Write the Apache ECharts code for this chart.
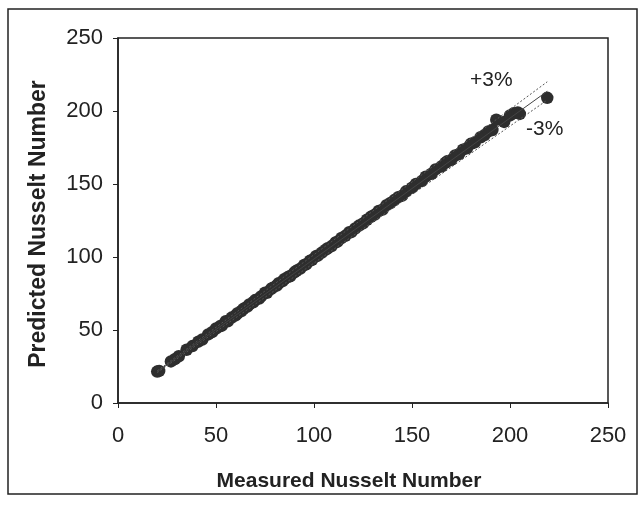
<!DOCTYPE html>
<html>
<head>
<meta charset="utf-8">
<script src="https://cdn.jsdelivr.net/npm/echarts@6/dist/echarts.min.js"></script>
<style>
  html, body { margin: 0; padding: 0; background: #fff; }
  #chart { width: 641px; height: 506px; }
</style>
</head>
<body>
<div id="chart"></div>
<script>
// measured vs predicted Nusselt number
const measured = [20, 21, 27, 29, 31, 35, 38, 41, 43, 46, 48, 50, 52, 53, 55, 56, 58, 60, 61, 63,
  64, 66, 67, 69, 70, 72, 73, 75, 76, 78, 79, 81, 82, 84, 85, 87, 88, 90, 91, 93,
  95, 96, 98, 99, 101, 102, 104, 106, 107, 109, 111, 112, 114, 116, 118, 119, 121, 123, 125, 127,
  129, 131, 133, 135, 137, 139, 141, 143, 145, 147, 150, 152, 155, 157, 160, 162, 165, 167, 168, 170,
  172, 174, 176, 178, 180, 182, 185, 187, 189, 191, 193, 197, 200, 202, 204, 205, 219];
const predicted = [21.5, 22, 28.5, 30, 32, 36.5, 39, 42, 43.5, 47, 48.5, 51, 52.5, 53, 56, 56, 58.5, 60, 61.5, 63,
  64.5, 66, 67.5, 69, 70.5, 71.5, 73, 75.5, 75.5, 78, 79, 80.5, 82, 83.5, 85, 86.5, 87, 89.5, 90.5, 92,
  94.5, 95, 97.5, 98, 100.5, 101, 103, 105, 106, 107.5, 110, 110.5, 113, 114.5, 117, 117, 119.5, 121.5, 123, 125.5,
  127.5, 129, 131.5, 132.5, 135.5, 137, 139, 141, 142, 145, 147.5, 150, 152, 155, 157, 160, 162, 164.5, 165.5, 166.5,
  169.5, 170.5, 173.5, 174.5, 177.5, 178.5, 182, 183.5, 186, 187, 194, 192.5, 197, 198.5, 199, 198, 209];
// reference lines (perfect fit, +3%, -3%)
const perfectLine = [[20, 21.4], [219, 213.5]];
const plusLine = [[20, 22], [219, 220]];
const minusLine = [[20, 20.8], [219, 207.5]];
const ticks = [0, 50, 100, 150, 200, 250];

const points = measured.map((x, i) => [x, predicted[i]]);
const font = 'Arial, "Liberation Sans", sans-serif';

const chart = echarts.init(document.getElementById('chart'), null, { renderer: 'canvas' });

const option = {
  backgroundColor: '#fff',
  animation: false,
  grid: {
    left: 118, right: 33, top: 38, bottom: 103,
    show: true, borderColor: '#222', borderWidth: 1.5
  },
  xAxis: {
    type: 'value', min: ticks[0], max: ticks[ticks.length - 1], interval: 50,
    axisLine: { lineStyle: { color: '#222', width: 1.5 } },
    axisTick: { show: true, length: 5, lineStyle: { color: '#222' } },
    axisLabel: { fontFamily: font, fontSize: 22, color: '#222', margin: 22 },
    splitLine: { show: false }
  },
  yAxis: {
    type: 'value', min: ticks[0], max: ticks[ticks.length - 1], interval: 50,
    axisLine: { show: true, lineStyle: { color: '#222', width: 1.5 } },
    axisTick: { show: true, length: 5, lineStyle: { color: '#222' } },
    axisLabel: { fontFamily: font, fontSize: 22, color: '#222', margin: 15 },
    splitLine: { show: false }
  },
  series: [
    {
      type: 'line', data: plusLine, symbol: 'none', silent: true,
      lineStyle: { color: '#555', width: 1, type: [2, 2] }
    },
    {
      type: 'line', data: minusLine, symbol: 'none', silent: true,
      lineStyle: { color: '#555', width: 1, type: [2, 2] }
    },
    {
      type: 'line', data: perfectLine, symbol: 'none', silent: true,
      lineStyle: { color: '#444', width: 1 }
    },
    {
      type: 'scatter', data: points, symbolSize: 12.5,
      itemStyle: { color: '#2e2e2e', opacity: 1 }
    }
  ],
  graphic: [
    {
      type: 'rect', silent: true,
      shape: { x: 8, y: 9, width: 629, height: 485 },
      style: { fill: null, stroke: '#222', lineWidth: 1.5 }
    },
    // axis titles
    {
      type: 'text', x: 349, y: 481,
      style: {
        text: 'Measured Nusselt Number', fontFamily: font, fontSize: 21, fontWeight: 'bold',
        fill: '#222', align: 'center', verticalAlign: 'middle'
      }
    },
    {
      type: 'text', x: 39, y: 224, rotation: Math.PI / 2,
      style: {
        text: 'Predicted Nusselt Number', fontFamily: font, fontSize: 23, fontWeight: 'bold',
        fill: '#222', align: 'center', verticalAlign: 'middle'
      }
    },
    {
      type: 'text', left: 470, top: 70,
      style: { text: '+3%', fontFamily: font, fontSize: 21, fill: '#222' }
    },
    {
      type: 'text', left: 526, top: 119,
      style: { text: '-3%', fontFamily: font, fontSize: 21, fill: '#222' }
    }
  ]
};

chart.setOption(option);
window.addEventListener('resize', chart.resize);
</script>
</body>
</html>
